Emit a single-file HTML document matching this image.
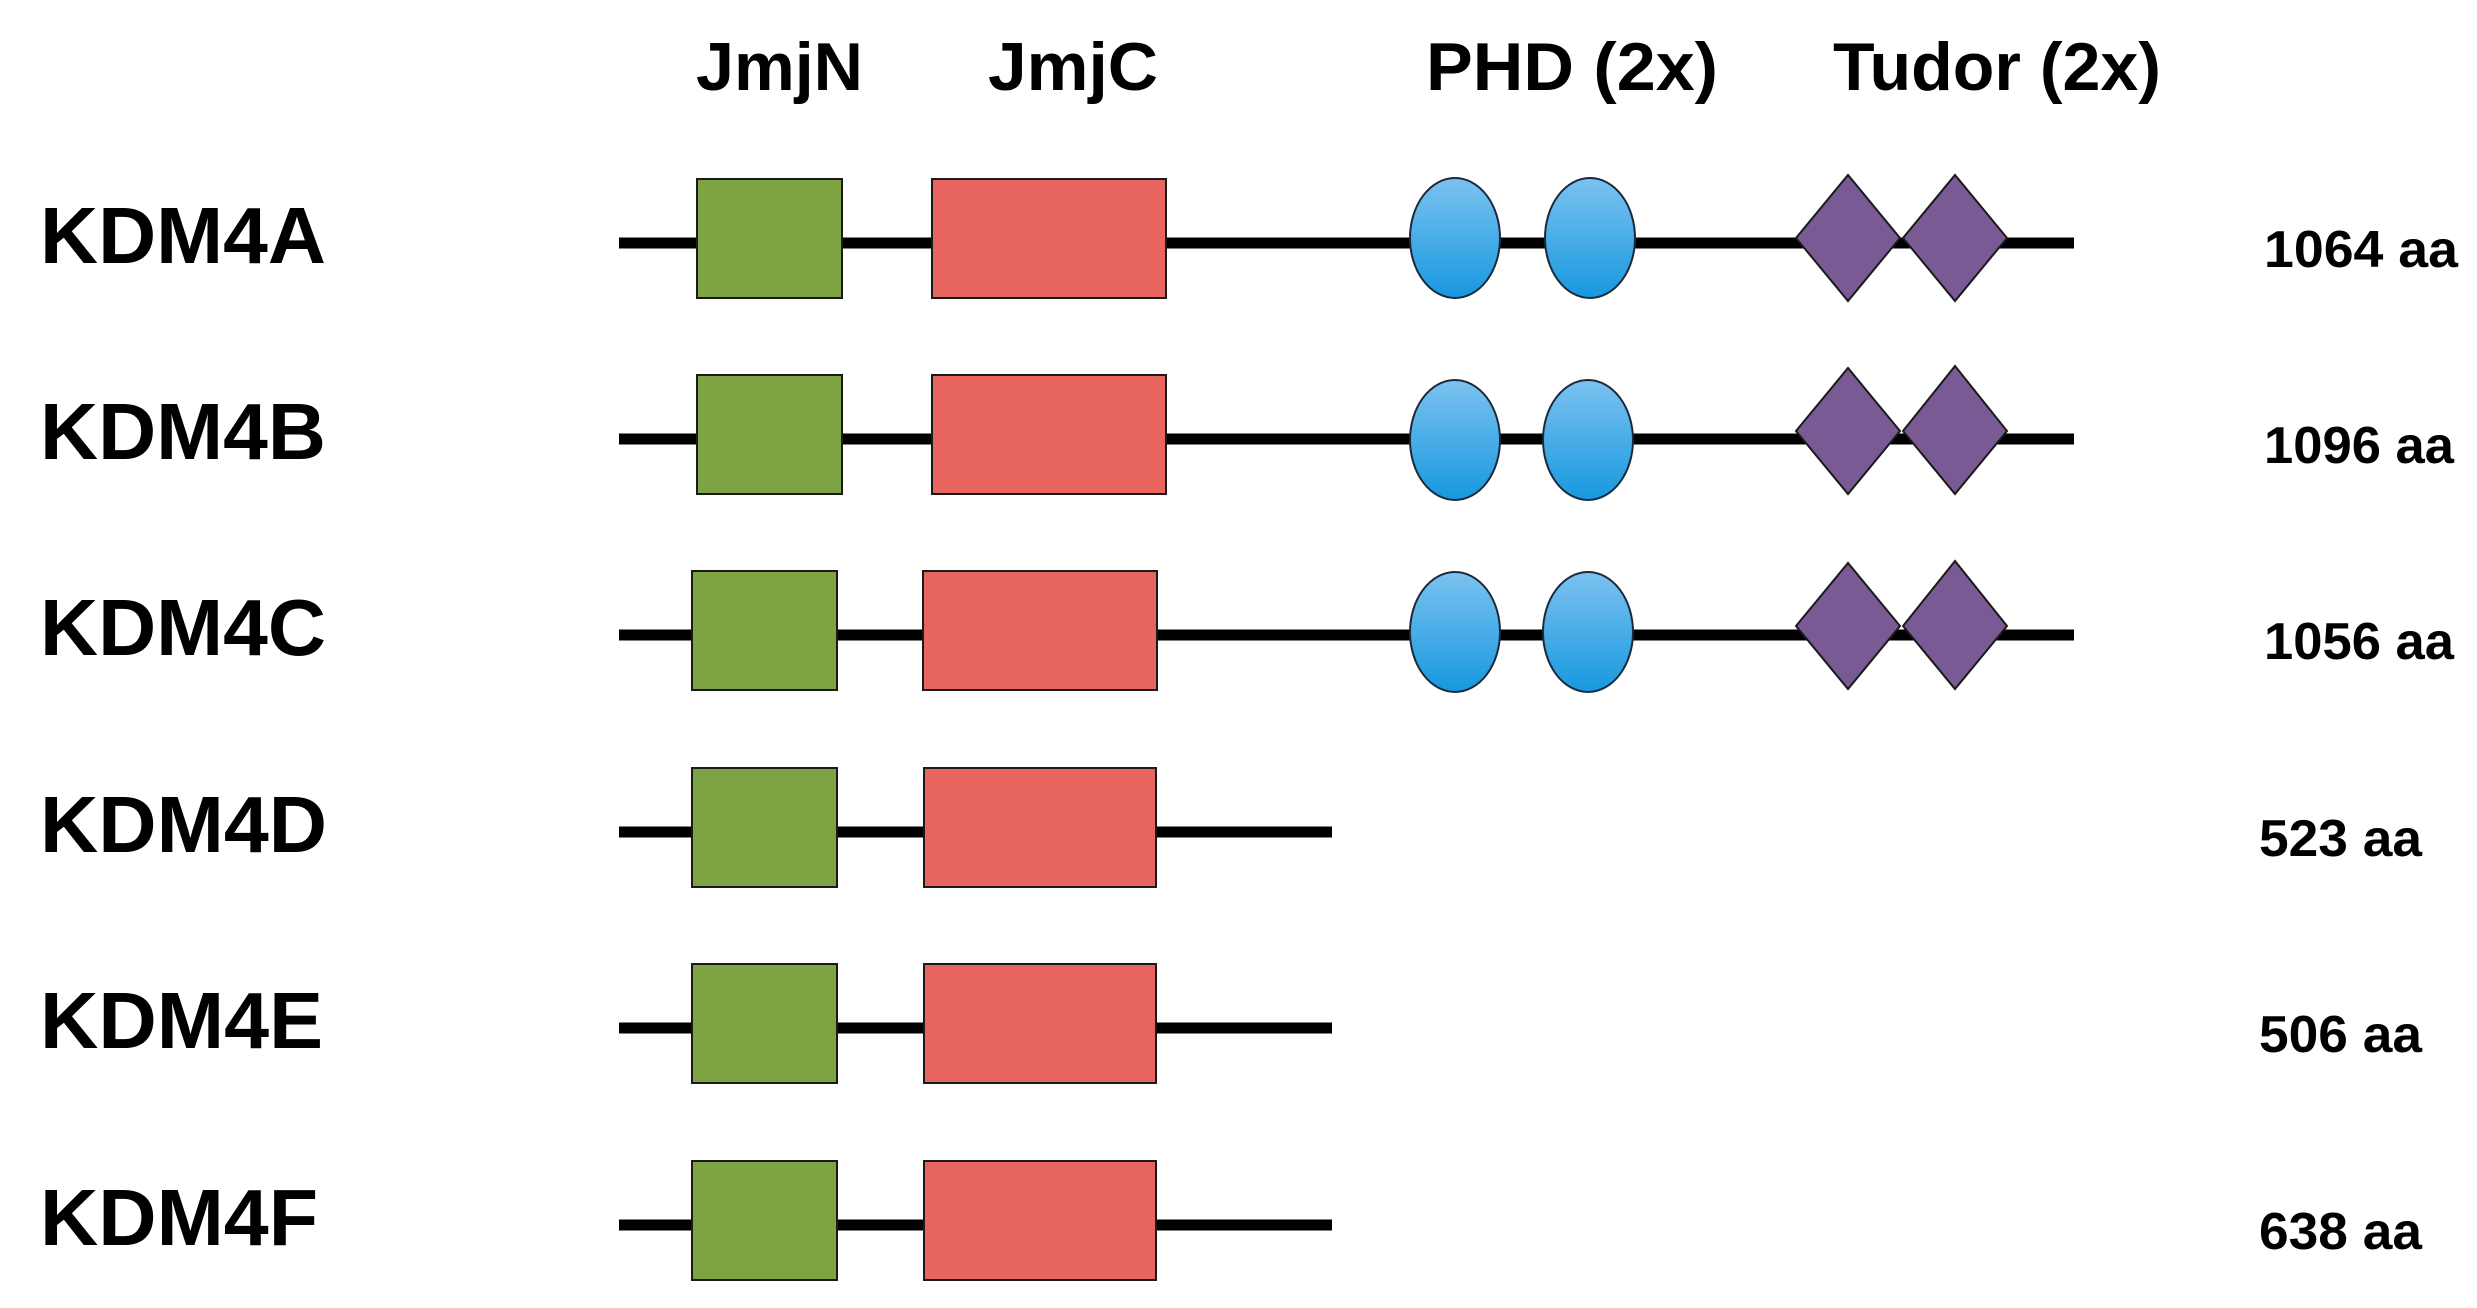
<!DOCTYPE html>
<html><head><meta charset="utf-8"><style>html,body{margin:0;padding:0;background:#fff}svg{display:block}</style></head>
<body>
<svg width="2477" height="1308" viewBox="0 0 2477 1308" xmlns="http://www.w3.org/2000/svg" font-family="'Liberation Sans', sans-serif" font-weight="bold">
<defs>
<linearGradient id="bl" x1="0" y1="0" x2="0" y2="1"><stop offset="0" stop-color="#7cc2f0"/><stop offset="1" stop-color="#1798df"/></linearGradient>
</defs>
<g fill="#000">
<text x="696" y="90" font-size="68" textLength="167" lengthAdjust="spacingAndGlyphs">JmjN</text>
<text x="988" y="90" font-size="68" textLength="170" lengthAdjust="spacingAndGlyphs">JmjC</text>
<text x="1426" y="90" font-size="68" textLength="292" lengthAdjust="spacingAndGlyphs">PHD (2x)</text>
<text x="1833" y="90" font-size="68" textLength="328" lengthAdjust="spacingAndGlyphs">Tudor (2x)</text>
</g>
<g id="rows">
<!-- Row A -->
<line x1="619" y1="243" x2="2074" y2="243" stroke="#000" stroke-width="11"/>
<rect x="697" y="179" width="145" height="119" fill="#7ea343" stroke="#1a1a1a" stroke-width="2"/>
<rect x="932" y="179" width="234" height="119" fill="#e8645f" stroke="#1a1a1a" stroke-width="2"/>
<ellipse cx="1455" cy="238" rx="45" ry="60" fill="url(#bl)" stroke="#1a2a3a" stroke-width="2"/>
<ellipse cx="1590" cy="238" rx="45" ry="60" fill="url(#bl)" stroke="#1a2a3a" stroke-width="2"/>
<polygon points="1796,238 1848,175 1900,238 1848,301" fill="#7a5a94" stroke="#1a1a1a" stroke-width="2"/>
<polygon points="1903,238 1955,175 2007,238 1955,301" fill="#7a5a94" stroke="#1a1a1a" stroke-width="2"/>
<text x="40" y="263" font-size="80" textLength="286" lengthAdjust="spacingAndGlyphs">KDM4A</text>
<text x="2264" y="267" font-size="52" textLength="194" lengthAdjust="spacingAndGlyphs">1064 aa</text>
<!-- Row B -->
<line x1="619" y1="439" x2="2074" y2="439" stroke="#000" stroke-width="11"/>
<rect x="697" y="375" width="145" height="119" fill="#7ea343" stroke="#1a1a1a" stroke-width="2"/>
<rect x="932" y="375" width="234" height="119" fill="#e8645f" stroke="#1a1a1a" stroke-width="2"/>
<ellipse cx="1455" cy="440" rx="45" ry="60" fill="url(#bl)" stroke="#1a2a3a" stroke-width="2"/>
<ellipse cx="1588" cy="440" rx="45" ry="60" fill="url(#bl)" stroke="#1a2a3a" stroke-width="2"/>
<polygon points="1796,431 1848,368 1900,431 1848,494" fill="#7a5a94" stroke="#1a1a1a" stroke-width="2"/>
<polygon points="1903,431 1955,366 2007,431 1955,494" fill="#7a5a94" stroke="#1a1a1a" stroke-width="2"/>
<text x="40" y="459" font-size="80" textLength="286" lengthAdjust="spacingAndGlyphs">KDM4B</text>
<text x="2264" y="463" font-size="52" textLength="190" lengthAdjust="spacingAndGlyphs">1096 aa</text>
<!-- Row C -->
<line x1="619" y1="635" x2="2074" y2="635" stroke="#000" stroke-width="11"/>
<rect x="692" y="571" width="145" height="119" fill="#7ea343" stroke="#1a1a1a" stroke-width="2"/>
<rect x="923" y="571" width="234" height="119" fill="#e8645f" stroke="#1a1a1a" stroke-width="2"/>
<ellipse cx="1455" cy="632" rx="45" ry="60" fill="url(#bl)" stroke="#1a2a3a" stroke-width="2"/>
<ellipse cx="1588" cy="632" rx="45" ry="60" fill="url(#bl)" stroke="#1a2a3a" stroke-width="2"/>
<polygon points="1796,626 1848,563 1900,626 1848,689" fill="#7a5a94" stroke="#1a1a1a" stroke-width="2"/>
<polygon points="1903,626 1955,561 2007,626 1955,689" fill="#7a5a94" stroke="#1a1a1a" stroke-width="2"/>
<text x="40" y="655" font-size="80" textLength="286" lengthAdjust="spacingAndGlyphs">KDM4C</text>
<text x="2264" y="659" font-size="52" textLength="190" lengthAdjust="spacingAndGlyphs">1056 aa</text>
<!-- Row D -->
<line x1="619" y1="832" x2="1332" y2="832" stroke="#000" stroke-width="11"/>
<rect x="692" y="768" width="145" height="119" fill="#7ea343" stroke="#1a1a1a" stroke-width="2"/>
<rect x="924" y="768" width="232" height="119" fill="#e8645f" stroke="#1a1a1a" stroke-width="2"/>
<text x="40" y="852" font-size="80" textLength="287" lengthAdjust="spacingAndGlyphs">KDM4D</text>
<text x="2259" y="856" font-size="52" textLength="163" lengthAdjust="spacingAndGlyphs">523 aa</text>
<!-- Row E -->
<line x1="619" y1="1028" x2="1332" y2="1028" stroke="#000" stroke-width="11"/>
<rect x="692" y="964" width="145" height="119" fill="#7ea343" stroke="#1a1a1a" stroke-width="2"/>
<rect x="924" y="964" width="232" height="119" fill="#e8645f" stroke="#1a1a1a" stroke-width="2"/>
<text x="40" y="1048" font-size="80" textLength="283" lengthAdjust="spacingAndGlyphs">KDM4E</text>
<text x="2259" y="1052" font-size="52" textLength="163" lengthAdjust="spacingAndGlyphs">506 aa</text>
<!-- Row F -->
<line x1="619" y1="1225" x2="1332" y2="1225" stroke="#000" stroke-width="11"/>
<rect x="692" y="1161" width="145" height="119" fill="#7ea343" stroke="#1a1a1a" stroke-width="2"/>
<rect x="924" y="1161" width="232" height="119" fill="#e8645f" stroke="#1a1a1a" stroke-width="2"/>
<text x="40" y="1245" font-size="80" textLength="278" lengthAdjust="spacingAndGlyphs">KDM4F</text>
<text x="2259" y="1249" font-size="52" textLength="163" lengthAdjust="spacingAndGlyphs">638 aa</text>
</g>
</svg>
</body></html>
